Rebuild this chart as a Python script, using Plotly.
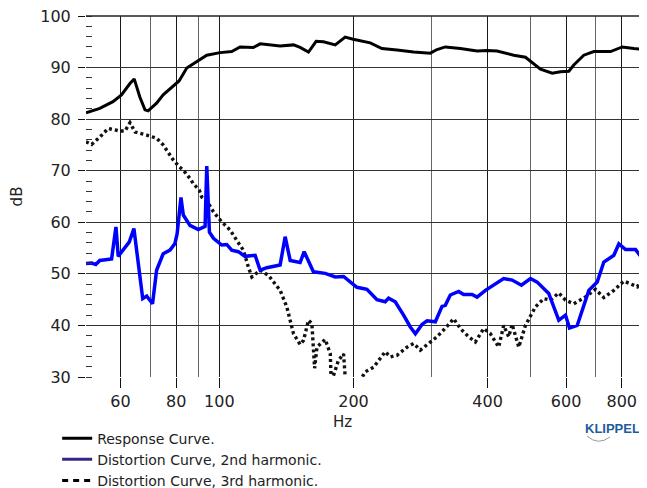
import math
import plotly.graph_objects as go

# ---------------- data ----------------
resp_f = [50.2, 53.9, 57.7, 60.3, 63.0, 64.4, 66.3, 68.1, 69.2, 72.3, 74.8, 78.8, 81.2, 84.5,
          90.2, 93.7, 100.4, 106.6, 111.3, 119.2, 123.5, 136.9, 146.7, 151.8, 158.5, 164.9,
          171.3, 182.0, 191.6, 199.7, 218.1, 231.7, 250.4, 272.9, 297.5, 308.0, 321.5, 347.5,
          378.8, 398.9, 420.1, 457.9, 486.4, 507.8, 525.7, 558.5, 583.0, 608.6, 624.5, 657.6,
          692.5, 755.1, 802.3, 851.9, 897.2]
resp_db = [81.2, 82.1, 83.4, 84.7, 86.9, 87.8, 84.3, 81.8, 81.6, 83.1, 84.7, 86.3, 87.4, 89.9,
           91.5, 92.4, 92.9, 93.1, 94.0, 93.9, 94.6, 94.2, 94.4, 93.9, 93.0, 95.1,
           95.0, 94.4, 95.9, 95.5, 94.8, 93.7, 93.4, 93.0, 92.8, 93.5, 94.0, 93.7,
           93.2, 93.3, 93.2, 92.4, 92.0, 90.8, 89.7, 88.9, 89.2, 89.3, 90.5, 92.4,
           93.1, 93.1, 94.0, 93.7, 93.5]

h2_f = [50.2, 51.7, 52.8, 53.9, 57.3, 58.6, 59.3, 62.8, 64.3, 67.3, 68.7, 70.8, 72.3, 74.8,
        77.5, 79.5, 80.4, 82.0, 83.0, 85.9, 89.7, 92.9, 93.7, 95.0, 97.0, 101.2, 103.9,
        106.6, 110.3, 114.2, 120.3, 123.5, 127.8, 136.9, 140.5, 144.2, 151.8, 155.0, 162.6,
        172.8, 182.0, 190.0, 203.6, 214.4, 225.8, 235.7, 239.8, 248.2, 259.1, 268.3, 275.4,
        285.0, 292.5, 305.3, 316.1, 321.5, 329.9, 344.4, 353.4, 369.1, 378.8, 395.5, 434.7,
        454.1, 476.4, 499.2, 516.8, 548.7, 577.9, 598.3, 610.7, 635.6, 674.9, 704.8, 729.3,
        768.1, 788.2, 816.1, 859.5, 897.2]
h2_db = [52.0, 52.1, 51.8, 52.6, 52.9, 59.1, 53.4, 56.2, 58.8, 45.2, 45.7, 44.2, 50.7, 53.9,
         54.6, 55.9, 57.8, 64.8, 61.4, 59.4, 58.6, 59.2, 70.9, 58.1, 56.9, 55.6, 55.7,
         54.6, 54.3, 53.4, 53.6, 50.7, 51.2, 51.7, 57.2, 52.6, 52.2, 54.3, 50.4,
         50.1, 49.4, 49.5, 47.4, 47.0, 45.0, 44.6, 45.3, 44.6, 42.0, 39.7, 38.4,
         40.2, 40.9, 40.7, 43.7, 43.9, 45.9, 46.6, 46.0, 46.0, 45.5, 46.8, 49.1,
         48.8, 47.8, 49.1, 48.4, 46.2, 41.0, 42.0, 39.5, 40.0, 46.8, 48.4, 52.3,
         53.6, 55.8, 54.7, 54.7, 52.6]

h3_f = [50.2, 51.7, 53.9, 56.3, 59.8, 61.4, 63.0, 64.7, 68.7, 72.3, 74.8, 78.8, 81.2, 83.0,
        85.9, 87.4, 90.2, 91.3, 94.5, 97.0, 101.2, 105.7, 109.4, 113.2, 116.2, 118.3, 123.5,
        128.9, 136.9, 141.7, 146.7, 151.8, 154.5, 158.5, 161.3, 163.6, 165.6, 172.8, 177.4,
        178.3, 182.0, 185.0, 190.0, 192.0, 200.0, 208.0, 212.5, 221.9, 235.7, 241.9, 250.4,
        263.8, 272.9, 282.5, 292.5, 308.0, 324.3, 335.6, 347.5, 362.7, 375.5, 392.0, 405.8,
        423.6, 434.7, 446.1, 454.1, 469.9, 486.4, 512.2, 534.7, 553.6, 577.9, 598.3, 624.5,
        657.6, 698.7, 729.3, 768.1, 809.0, 867.1, 897.2]
h3_db = [75.6, 75.1, 76.5, 78.2, 77.7, 77.7, 79.3, 77.5, 76.9, 76.3, 75.0, 72.1, 70.8, 70.1,
         68.5, 67.5, 66.2, 64.9, 63.7, 62.0, 60.1, 58.5, 56.5, 54.6, 51.3, 49.4, 50.7,
         49.7, 46.8, 43.6, 38.4, 36.3, 37.1, 41.0, 40.4, 31.7, 35.8, 37.3, 34.5,
         29.0, 31.3, 33.2, 34.5, 29.0, 27.0, 29.5, 31.0, 31.9, 34.9, 33.9, 34.2,
         35.8, 36.5, 35.2, 36.2, 37.8, 39.8, 41.3, 39.4, 37.8, 36.8, 39.4, 38.4,
         35.8, 40.0, 37.8, 40.2, 35.8, 40.0, 43.6, 45.2, 44.9, 46.3, 44.9, 44.2,
         45.3, 47.0, 45.4, 46.8, 48.6, 47.5, 49.7]

x_tickvals = [60, 80, 100, 200, 400, 600, 800]
x_ticktext = ["60", "80", "100", "200", "400", "600", "800"]
x_minorvals = [70, 90, 300, 500, 700]
y_tickvals = [30, 40, 50, 60, 70, 80, 90, 100]

legend_names = ["Response Curve.", "Distortion Curve, 2nd harmonic.", "Distortion Curve, 3rd harmonic."]

# ---------------- figure ----------------
TICKFONT = dict(family="DejaVu Sans", size=16, color="#222")

fig = go.Figure()

fig.add_trace(go.Scatter(x=h3_f, y=h3_db, mode="lines", showlegend=False,
                         line=dict(color="#111", width=3.4, dash="3px,3px")))
fig.add_trace(go.Scatter(x=h2_f, y=h2_db, mode="lines", showlegend=False,
                         line=dict(color="#0000ff", width=3.5)))
fig.add_trace(go.Scatter(x=resp_f, y=resp_db, mode="lines", showlegend=False,
                         line=dict(color="#000000", width=3)))

# legend entries
fig.add_trace(go.Scatter(x=[None], y=[None], mode="lines", name=legend_names[0],
                         line=dict(color="#000000", width=3)))
fig.add_trace(go.Scatter(x=[None], y=[None], mode="lines", name=legend_names[1],
                         line=dict(color="#33288a", width=3)))
fig.add_trace(go.Scatter(x=[None], y=[None], mode="lines", name=legend_names[2],
                         line=dict(color="#000000", width=3, dash="6px,5px")))

# page body has an 8px offset; the figure is sized so the plot lands where the reference has it
fig.update_layout(
    width=639, height=480,
    margin=dict(l=78, r=4, t=8, b=111, autoexpand=False),
    paper_bgcolor="white", plot_bgcolor="white",
    font=dict(family="Liberation Sans, Arial", color="#222"),
    showlegend=True,
    legend=dict(x=-0.0518, y=-0.1262, xanchor="left", yanchor="top",
                font=dict(family="DejaVu Sans", size=14, color="#222"),
                bgcolor="rgba(0,0,0,0)", tracegroupgap=0, itemwidth=30),
    xaxis=dict(type="log", range=[math.log10(50.2), math.log10(893)],
               tickvals=x_tickvals, ticktext=x_ticktext,
               ticks="outside", ticklen=10, tickwidth=1.3, tickcolor="#111",
               tickfont=TICKFONT, showgrid=True, gridcolor="#1a1a1a", gridwidth=1.4,
               ticklabeloverflow="allow",
               minor=dict(tickvals=x_minorvals, ticks="", showgrid=True,
                          gridcolor="#666666", gridwidth=1.4),
               zeroline=False, showline=False),
    yaxis=dict(range=[30, 100], tickvals=y_tickvals,
               ticks="outside", ticklen=7, tickwidth=1.3, tickcolor="#111",
               tickfont=TICKFONT, showgrid=True, gridcolor="#333333", gridwidth=1.4,
               ticklabelstandoff=4, ticklabeloverflow="allow",
               minor=dict(dtick=2, ticks="inside", ticklen=6, tickwidth=1.3,
                          tickcolor="#333", showgrid=False),
               zeroline=False, showline=False,
               title=dict(text="dB", font=dict(family="DejaVu Sans", size=15, color="#222"),
                          standoff=20)),
)

# frame lines (top edge at 100 dB, right edge)
fig.add_shape(type="line", xref="paper", yref="paper", x0=0, x1=1, y0=1, y1=1,
              line=dict(color="#222", width=1.4))
fig.add_shape(type="line", xref="paper", yref="paper", x0=1, x1=1, y0=0, y1=1,
              line=dict(color="#111", width=1.4))

# x axis title
fig.add_annotation(text="Hz", xref="paper", yref="paper", x=0.4614, y=-0.125,
                   showarrow=False, xanchor="center", yanchor="middle",
                   font=dict(family="DejaVu Sans", size=15, color="#222"))

# KLIPPEL logo
fig.add_annotation(text="<b>KLIPPEL</b>", xref="paper", yref="paper",
                   x=(612 - 86) / 557, y=(377 - 428) / 361, showarrow=False,
                   xanchor="center", yanchor="middle",
                   font=dict(family="Liberation Sans, Arial", size=13, color="#1f5c9c"))
ax0 = (587 - 86) / 557
ax1 = (610 - 86) / 557
axm = (598 - 86) / 557
fig.add_shape(type="path", xref="paper", yref="paper",
              path=f"M {ax0},{(377-436)/361} Q {axm},{(377-446)/361} {ax1},{(377-437)/361}",
              line=dict(color="#999999", width=1))

fig.write_html("out.html")
